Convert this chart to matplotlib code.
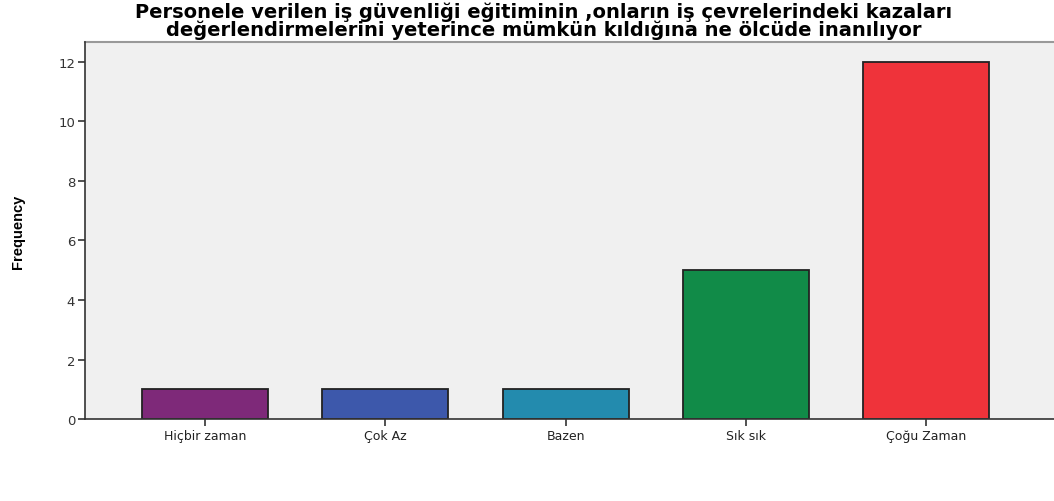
import numpy as np
import matplotlib.pyplot as plt

# data
categories = ['Hiçbir zaman', 'Çok Az', 'Bazen', 'Sık sık', 'Çoğu Zaman']
frequency = [1, 1, 1, 5, 12]
bar_colors = ['#7E2979', '#3D58AB', '#238BAE', '#118B48', '#EF333A']
yticks = [0, 2, 4, 6, 8, 10, 12]

title = ('Personele verilen iş güvenliği eğitiminin ,onların iş çevrelerindeki kazaları\n'
         'değerlendirmelerini yeterince mümkün kıldığına ne ölcüde inanılıyor')

plt.rcParams['font.family'] = ['DejaVu Sans']

fig = plt.figure(figsize=(10.54, 5.02), dpi=100)
ax = fig.add_axes([0.0806, 0.1633, 0.9194, 0.751])
ax.set_facecolor('#F0F0F0')

x = np.arange(len(categories))
ax.bar(x, frequency, width=0.7, color=bar_colors, edgecolor='#222222', linewidth=1.3, zorder=2)

ax.set_xlim(-0.667, 4.71)
ax.set_ylim(0, 12.67)
ax.set_xticks(x)
ax.set_xticklabels(categories, fontsize=9, color='#222222')
ax.set_yticks(yticks)
ax.set_yticklabels([str(v) for v in yticks], fontsize=9.5, color='#333333')

for s in ['top', 'right']:
    ax.spines[s].set_visible(False)
ax.spines['left'].set_color('#333333')
ax.spines['bottom'].set_color('#333333')
ax.spines['left'].set_linewidth(1.2)
ax.spines['bottom'].set_linewidth(1.2)
ax.axhline(12.67, color='#999999', linewidth=1.5, clip_on=False)
ax.tick_params(axis='both', direction='out', length=5, width=1.2, color='#333333', pad=2)

ax.set_ylabel('Frequency', fontsize=10.5, fontweight='bold',
              family=['Liberation Sans Narrow', 'Liberation Sans'], labelpad=24)

fig.text(0.516, 0.995, title, ha='center', va='top', fontsize=14, fontweight='bold',
         linespacing=0.9)

fig.savefig('out.png', dpi=100)
